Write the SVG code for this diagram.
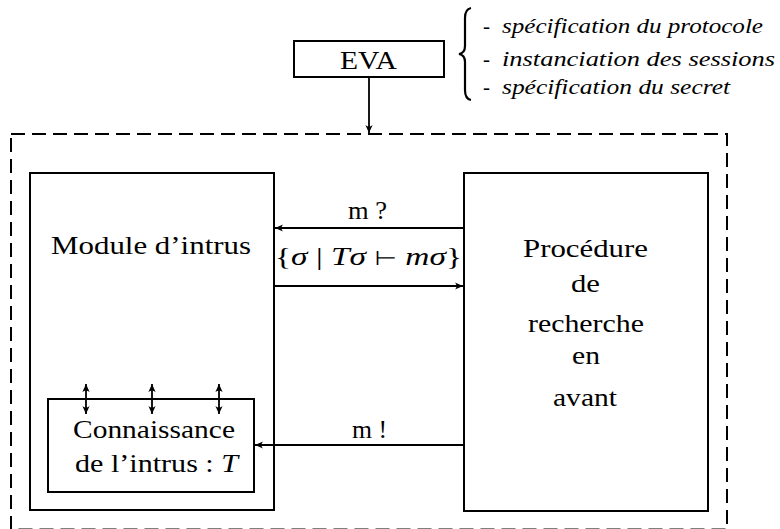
<svg xmlns="http://www.w3.org/2000/svg" width="780" height="529" viewBox="0 0 780 529">
  <style>
    .box { fill: none; stroke: #000; stroke-width: 2; }
    .frame { fill: none; stroke: #000; stroke-width: 2; stroke-dasharray: 14 7; }
    .wire { fill: none; stroke: #000; stroke-width: 1.8; }
    .lbl { font-family: 'Liberation Serif', 'DejaVu Serif', serif; font-size: 26px; fill: #000; }
    .it { font-style: italic; }
    .op { font-family: 'DejaVu Sans', 'DejaVu Serif', sans-serif; font-size: 20px; }
    .note { font-family: 'Liberation Serif', 'DejaVu Serif', serif; font-size: 21px; font-style: italic; fill: #000; }
    .dash { font-family: 'Liberation Serif', 'DejaVu Serif', serif; font-size: 21px; fill: #000; }
  </style>
  <defs>
    <marker id="head" viewBox="-9 -5 10 10" refX="0" refY="0" markerWidth="10" markerHeight="10" markerUnits="userSpaceOnUse" orient="auto-start-reverse">
      <path d="M0,0 L-8,-3.6 Q-5,0 -8,3.6 Z" fill="#000"/>
    </marker>
  </defs>

  <rect width="780" height="529" fill="#fff"/>

  <!-- dashed enclosure of the analysis engine -->
  <rect id="enclosure" class="frame" x="11" y="134" width="716" height="395.5"/>

  <!-- EVA input -->
  <g id="eva">
    <rect class="box" x="294" y="41" width="150" height="36"/>
    <text class="lbl" x="340" y="69" font-size="28" textLength="57" lengthAdjust="spacingAndGlyphs">EVA</text>
  </g>

  <!-- brace and list of EVA contents -->
  <g id="eva-contents">
    <path d="M471,8 Q465,9 465,18 L465,46 Q465,53 459,54 Q465,55 465,62 L465,90 Q465,99 471,100" fill="none" stroke="#000" stroke-width="2.2"/>
    <text class="dash" x="483" y="33">-</text>
    <text class="note" x="502" y="33" textLength="261" lengthAdjust="spacingAndGlyphs">spécification du protocole</text>
    <text class="dash" x="483" y="66">-</text>
    <text class="note" x="502" y="66" textLength="273" lengthAdjust="spacingAndGlyphs">instanciation des sessions</text>
    <text class="dash" x="483" y="94">-</text>
    <text class="note" x="502" y="94" textLength="228" lengthAdjust="spacingAndGlyphs">spécification du secret</text>
  </g>

  <!-- intruder module -->
  <g id="intruder-module">
    <rect class="box" x="30" y="173" width="244" height="337"/>
    <text class="lbl" x="51" y="254" textLength="200" lengthAdjust="spacingAndGlyphs">Module d’intrus</text>
  </g>

  <!-- intruder knowledge -->
  <g id="intruder-knowledge">
    <rect class="box" x="48" y="399" width="206" height="93"/>
    <text class="lbl" x="73" y="438" textLength="162" lengthAdjust="spacingAndGlyphs">Connaissance</text>
    <text class="lbl" x="75" y="472" textLength="163" lengthAdjust="spacingAndGlyphs">de l’intrus : <tspan class="it">T</tspan></text>
  </g>

  <!-- forward search procedure -->
  <g id="forward-search">
    <rect class="box" x="464" y="173" width="244" height="338"/>
    <text class="lbl" x="523" y="257" textLength="125" lengthAdjust="spacingAndGlyphs">Procédure</text>
    <text class="lbl" x="571" y="292" textLength="29" lengthAdjust="spacingAndGlyphs">de</text>
    <text class="lbl" x="528" y="332" textLength="116" lengthAdjust="spacingAndGlyphs">recherche</text>
    <text class="lbl" x="572" y="364" textLength="28" lengthAdjust="spacingAndGlyphs">en</text>
    <text class="lbl" x="553" y="406" textLength="64" lengthAdjust="spacingAndGlyphs">avant</text>
  </g>

  <!-- connectors -->
  <g id="connectors">
    <line class="wire" x1="369" y1="77" x2="369" y2="133" marker-end="url(#head)"/>
    <line class="wire" x1="464" y1="228" x2="275" y2="228" marker-end="url(#head)"/>
    <line class="wire" x1="274" y1="286" x2="463" y2="286" marker-end="url(#head)"/>
    <line class="wire" x1="464" y1="445" x2="255" y2="445" marker-end="url(#head)"/>
    <line class="wire" x1="86" y1="384" x2="86" y2="414" marker-start="url(#head)" marker-end="url(#head)"/>
    <line class="wire" x1="152" y1="384" x2="152" y2="414" marker-start="url(#head)" marker-end="url(#head)"/>
    <line class="wire" x1="219" y1="384" x2="219" y2="414" marker-start="url(#head)" marker-end="url(#head)"/>
    <text class="lbl" x="348" y="219" textLength="39" lengthAdjust="spacingAndGlyphs">m ?</text>
    <text class="lbl" x="275" y="265" textLength="187" lengthAdjust="spacingAndGlyphs">{<tspan class="it">σ</tspan> | <tspan class="it">Tσ</tspan> <tspan class="op">⊢</tspan> <tspan class="it">mσ</tspan>}</text>
    <text class="lbl" x="352" y="438" textLength="35" lengthAdjust="spacingAndGlyphs">m !</text>
  </g>
</svg>
